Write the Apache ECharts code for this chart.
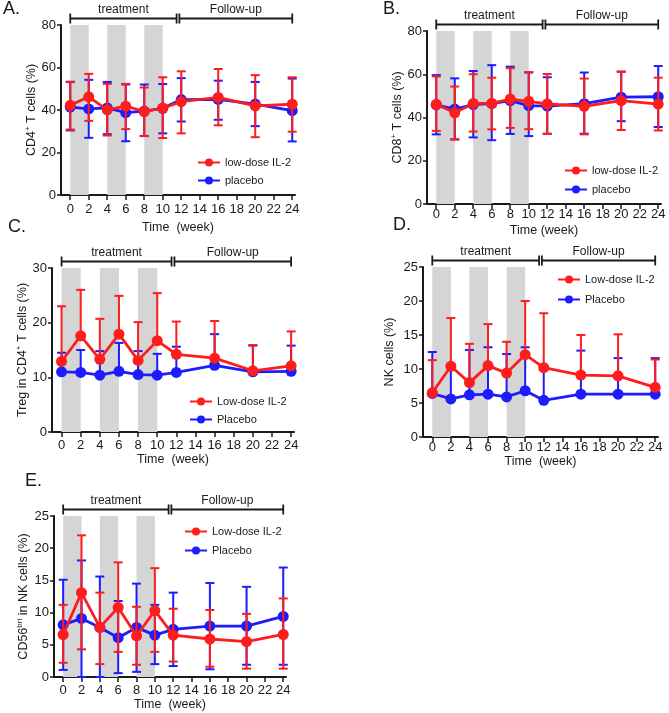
<!DOCTYPE html>
<html><head><meta charset="utf-8">
<script src="https://cdn.jsdelivr.net/npm/echarts@6/dist/echarts.min.js"></script>
<style>html,body{margin:0;padding:0;background:#fff}#c{width:669px;height:713px}</style>
</head><body><div id="c"></div>
<script>
// ---------- data ----------
const weeks = [0, 2, 4, 6, 8, 10, 12, 16, 20, 24];
const tickWeeks = [0, 2, 4, 6, 8, 10, 12, 14, 16, 18, 20, 22, 24];
const doseWindows = [[0, 2], [4, 6], [8, 10]];
const phases = [['treatment', 0, 11.5], ['Follow-up', 11.8, 24]];

// A. CD4+ T cells (%)
const aLowMean  = [42.2, 46.2, 40.1, 41.8, 39.3, 40.9, 43.9, 45.9, 41.9, 42.7];
const aLowUpper = [53.1, 57.0, 52.3, 52.3, 50.6, 55.4, 58.2, 59.3, 56.4, 55.4];
const aLowLower = [30.8, 34.9, 28.0, 31.0, 27.7, 26.8, 29.0, 32.8, 27.2, 29.8];
const aPlaMean  = [41.4, 40.5, 41.0, 38.8, 39.5, 40.8, 44.9, 45.0, 42.8, 39.7];
const aPlaUpper = [53.3, 54.2, 53.2, 52.0, 52.0, 52.2, 55.0, 53.8, 53.2, 54.8];
const aPlaLower = [30.4, 26.9, 28.6, 25.3, 27.8, 29.0, 34.6, 35.4, 32.4, 25.2];

// B. CD8+ T cells (%)
const bLowMean  = [46.1, 42.2, 46.5, 46.5, 48.5, 47.5, 46.3, 45.2, 47.8, 46.2];
const bLowUpper = [59.0, 54.3, 60.0, 58.4, 62.8, 61.0, 60.1, 58.0, 61.2, 58.4];
const bLowLower = [33.8, 29.8, 33.5, 34.5, 35.2, 34.6, 32.4, 32.2, 34.2, 34.0];
const bPlaMean  = [45.8, 43.9, 46.0, 46.4, 47.8, 45.5, 45.3, 46.4, 49.4, 49.6];
const bPlaUpper = [59.6, 58.1, 61.5, 64.2, 63.5, 60.8, 58.6, 60.8, 61.2, 63.8];
const bPlaLower = [32.2, 29.9, 30.8, 29.5, 32.4, 31.4, 32.5, 32.5, 38.3, 35.6];

// C. Treg in CD4+ T cells (%)
const cLowMean  = [12.9, 17.6, 13.3, 17.9, 13.1, 16.7, 14.2, 13.5, 11.2, 12.1];
const cLowUpper = [23.0, 26.0, 20.7, 24.9, 20.1, 25.4, 20.2, 20.3, 15.9, 18.4];
const cPlaMean  = [11.0, 10.9, 10.4, 11.1, 10.5, 10.4, 10.9, 12.2, 11.0, 11.1];
const cPlaUpper = [14.5, 15.0, 14.8, 16.3, 14.8, 14.3, 15.6, 17.9, 15.8, 15.8];

// D. NK cells (%)
const dLowMean  = [6.5, 10.4, 8.0, 10.5, 9.4, 12.1, 10.2, 9.1, 9.0, 7.3];
const dLowUpper = [11.3, 17.5, 13.7, 16.6, 14.0, 20.0, 18.2, 15.0, 15.1, 11.4];
const dPlaMean  = [6.4, 5.6, 6.2, 6.3, 5.9, 6.8, 5.4, 6.3, 6.3, 6.3];
const dPlaUpper = [12.5, 10.7, 12.8, 13.2, 12.2, 13.2, 9.9, 12.7, 11.6, 11.6];

// E. CD56bri in NK cells (%)
const eLowMean  = [6.6, 13.1, 7.7, 10.8, 6.4, 10.3, 6.5, 5.9, 5.5, 6.6];
const eLowUpper = [11.2, 22.0, 13.1, 17.8, 10.9, 16.9, 10.6, 10.4, 9.8, 12.2];
const eLowLower = [2.2, 4.3, 2.0, 3.9, 1.9, 3.9, 2.4, 1.6, 1.3, 1.3];
const ePlaMean  = [8.1, 9.1, 7.7, 6.1, 7.7, 6.5, 7.4, 7.9, 7.9, 9.4];
const ePlaUpper = [15.1, 18.1, 15.6, 11.8, 14.5, 11.2, 13.1, 14.6, 14.0, 17.0];
const ePlaLower = [1.1, 0.0, 0.0, 0.6, 0.8, 2.0, 1.7, 1.2, 1.9, 1.9];

// ---------- styling / layout ----------
const FONT = "'Liberation Sans', Arial, sans-serif";
const BLACK = '#1a1a1a';
const RED = '#ff1c1c';
const BLUE = '#1c1cff';
const GRAY = '#d5d5d5';

const panels = [
  { letter: 'A.', lx: 3, ly: 0, grid: {left: 61, top: 25, width: 234, height: 170}, yMax: 80, yInt: 20,
    yName: '{a|CD4}{s|+}{a| T cells (%)}', yGap: 22, xName: 'Time  (week)', xLabelMargin: 8, xGap: 26,
    lowName: 'low-dose IL-2', plaName: 'placebo',
    low: [aLowMean, aLowUpper, aLowLower], pla: [aPlaMean, aPlaUpper, aPlaLower],
    legend: {left: 197, top: 157, gap: 7} },
  { letter: 'B.', lx: 383, ly: 0, grid: {left: 427, top: 31, width: 234, height: 173}, yMax: 80, yInt: 20,
    yName: '{a|CD8}{s|+}{a| T cells (%)}', yGap: 21, xName: 'Time (week)', xLabelMargin: 4, xGap: 20,
    lowName: 'low-dose IL-2', plaName: 'placebo',
    low: [bLowMean, bLowUpper, bLowLower], pla: [bPlaMean, bPlaUpper, bPlaLower],
    legend: {left: 564, top: 165, gap: 8} },
  { letter: 'C.', lx: 8, ly: 218, grid: {left: 52, top: 268, width: 242, height: 164}, yMax: 30, yInt: 10,
    yName: '{a|Treg in CD4}{s|+}{a| T cells (%)}', yGap: 22, xName: 'Time  (week)', xLabelMargin: 7, xGap: 20,
    lowName: 'Low-dose IL-2', plaName: 'Placebo',
    low: [cLowMean, cLowUpper, null], pla: [cPlaMean, cPlaUpper, null],
    legend: {left: 189, top: 396, gap: 7} },
  { letter: 'D.', lx: 393, ly: 216, grid: {left: 423, top: 267, width: 235, height: 170}, yMax: 25, yInt: 5,
    yName: '{a|NK cells (%)}', yGap: 26, xName: 'Time  (week)', xLabelMargin: 4, xGap: 13,
    lowName: 'Low-dose IL-2', plaName: 'Placebo',
    low: [dLowMean, dLowUpper, null], pla: [dPlaMean, dPlaUpper, null],
    legend: {left: 557, top: 274, gap: 9} },
  { letter: 'E.', lx: 25, ly: 472, grid: {left: 54, top: 516, width: 232, height: 161}, yMax: 25, yInt: 5,
    yName: '{a|CD56}{s|bri}{a| in NK cells (%)}', yGap: 23, xName: 'Time  (week)', xLabelMargin: 7, xGap: 21,
    lowName: 'Low-dose IL-2', plaName: 'Placebo',
    low: [eLowMean, eLowUpper, eLowLower], pla: [ePlaMean, ePlaUpper, ePlaLower],
    legend: {left: 184, top: 526, gap: 8} }
];

function errRender(color, both) {
  return function (params, api) {
    const x = api.value(0), lo = api.value(1), hi = api.value(2);
    const pHi = api.coord([x, hi]), pLo = api.coord([x, lo]);
    const hw = 4.5, st = {stroke: color, lineWidth: 2};
    const ch = [
      {type: 'line', shape: {x1: pHi[0], y1: pHi[1], x2: pLo[0], y2: pLo[1]}, style: st},
      {type: 'line', shape: {x1: pHi[0] - hw, y1: pHi[1], x2: pHi[0] + hw, y2: pHi[1]}, style: st}
    ];
    if (both) ch.push({type: 'line', shape: {x1: pLo[0] - hw, y1: pLo[1], x2: pLo[0] + hw, y2: pLo[1]}, style: st});
    return {type: 'group', children: ch};
  };
}

function bracketRender(yMax) {
  return function (params, api) {
    const label = phases[params.dataIndex][0];
    const a = api.coord([api.value(0), yMax]);
    const b = api.coord([api.value(1), yMax]);
    const y = a[1] - 6.5;
    const st = {stroke: BLACK, lineWidth: 1.8};
    return {type: 'group', children: [
      {type: 'line', shape: {x1: a[0], y1: y, x2: b[0], y2: y}, style: st},
      {type: 'line', shape: {x1: a[0], y1: y - 5, x2: a[0], y2: y + 5}, style: st},
      {type: 'line', shape: {x1: b[0], y1: y - 5, x2: b[0], y2: y + 5}, style: st},
      {type: 'text', x: (a[0] + b[0]) / 2, y: y - 2.5,
       style: {text: label, fill: BLACK, fontSize: 12, fontFamily: FONT, align: 'center', verticalAlign: 'bottom'}}
    ]};
  };
}

const grids = [], xAxes = [], yAxes = [], series = [], legends = [], graphics = [];
panels.forEach((p, i) => {
  grids.push(Object.assign({containLabel: false}, p.grid));
  xAxes.push({
    gridIndex: i, type: 'value', min: -1, max: 24.3,
    axisLine: {show: true, onZero: false, lineStyle: {color: BLACK, width: 2}},
    axisTick: {show: true, customValues: tickWeeks, length: 5, lineStyle: {color: BLACK, width: 1.5}},
    axisLabel: {customValues: tickWeeks, margin: p.xLabelMargin, fontSize: 13, color: BLACK, fontFamily: FONT},
    splitLine: {show: false},
    name: p.xName, nameLocation: 'middle', nameGap: p.xGap,
    nameTextStyle: {fontSize: 12.5, color: BLACK, fontFamily: FONT}
  });
  yAxes.push({
    gridIndex: i, type: 'value', min: 0, max: p.yMax, interval: p.yInt,
    axisLine: {show: true, onZero: false, lineStyle: {color: BLACK, width: 2}},
    axisTick: {show: true, length: 4, lineStyle: {color: BLACK, width: 1.5}},
    axisLabel: {margin: 5, fontSize: 13, color: BLACK, fontFamily: FONT},
    splitLine: {show: false},
    name: p.yName, nameLocation: 'middle', nameGap: p.yGap, nameRotate: 90,
    nameTextStyle: {fontSize: 12.5, color: BLACK, fontFamily: FONT,
      rich: {a: {fontSize: 12.5, color: BLACK, fontFamily: FONT, lineHeight: 15},
             s: {fontSize: 8, color: BLACK, fontFamily: FONT, lineHeight: 9, verticalAlign: 'top'}}}
  });
  const ax = {xAxisIndex: i, yAxisIndex: i};
  // dosing windows
  series.push(Object.assign({
    type: 'line', name: 'dosing', silent: true, z: 1, symbol: 'none',
    data: weeks.map((w, k) => [w, p.pla[0][k]]), lineStyle: {opacity: 0},
    markArea: {silent: true, itemStyle: {color: GRAY},
      data: doseWindows.map(d => [{xAxis: d[0]}, {xAxis: d[1]}])}
  }, ax));
  const groups = [[p.plaName, p.pla, BLUE, 2], [p.lowName, p.low, RED, 4]];
  groups.forEach(([name, arr, color, z]) => {
    const [mean, up, lo] = arr;
    series.push(Object.assign({
      type: 'custom', name: name + ' SD', z: z, clip: false, silent: true,
      renderItem: errRender(color, !!lo),
      encode: {x: 0, y: [1, 2]},
      data: weeks.map((w, k) => [w, lo ? lo[k] : mean[k], up[k]])
    }, ax));
    series.push(Object.assign({
      type: 'line', name: name, z: z + 1, symbol: 'circle', symbolSize: 11,
      itemStyle: {color: color}, lineStyle: {color: color, width: 2.8},
      data: weeks.map((w, k) => [w, mean[k]])
    }, ax));
  });
  series.push(Object.assign({
    type: 'custom', name: 'phase', z: 8, clip: false, silent: true,
    renderItem: bracketRender(p.yMax),
    encode: {x: [0, 1]},
    data: phases.map(ph => [ph[1], ph[2]])
  }, ax));
  legends.push({
    left: p.legend.left, top: p.legend.top, orient: 'vertical', padding: 0,
    itemWidth: 22, itemHeight: 10, itemGap: p.legend.gap, selectedMode: false,
    data: [p.lowName, p.plaName],
    textStyle: {fontSize: 11, color: BLACK, fontFamily: FONT}
  });
  graphics.push({type: 'text', left: p.lx, top: p.ly,
    style: {text: p.letter, fontSize: 18, fill: BLACK, fontFamily: FONT}});
});

const chart = echarts.init(document.getElementById('c'));
chart.setOption({
  animation: false,
  backgroundColor: '#fff',
  grid: grids, xAxis: xAxes, yAxis: yAxes,
  legend: legends, series: series, graphic: graphics
});
</script></body></html>
